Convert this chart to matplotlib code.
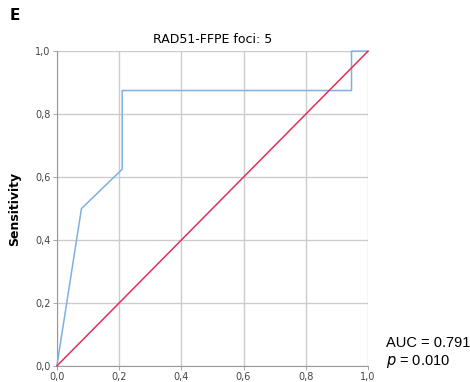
import matplotlib.pyplot as plt

# ROC curve points (1 - specificity, sensitivity)
fpr = [0.0, 0.079, 0.210, 0.210, 0.947, 0.947, 1.0]
tpr = [0.0, 0.500, 0.625, 0.875, 0.875, 1.000, 1.0]
ref_x = [0.0, 1.0]
ref_y = [0.0, 1.0]
ticks = [0.0, 0.2, 0.4, 0.6, 0.8, 1.0]
tick_labels = ["0,0", "0,2", "0,4", "0,6", "0,8", "1,0"]

auc_text = "AUC = 0.791"
p_text = "$p$ = 0.010"

fig = plt.figure(figsize=(4.7, 3.82), dpi=100)
ax = fig.add_axes([0.121, 0.042, 0.662, 0.824])

ax.plot(fpr, tpr, color="#7fb0e0", lw=1.1, zorder=3, clip_on=False)
ax.plot(ref_x, ref_y, color="#e0305a", lw=1.1, zorder=4, clip_on=False)

ax.set_xlim(0, 1)
ax.set_ylim(0, 1)
ax.set_xticks(ticks)
ax.set_yticks(ticks)
ax.set_xticklabels(tick_labels)
ax.set_yticklabels(tick_labels)
ax.tick_params(labelsize=7, colors="#444444", length=3, width=0.6, pad=1.5, color="#999999")
ax.grid(True, color="#cccccc", lw=1.0)
ax.set_axisbelow(True)
for side in ["top", "right"]:
    ax.spines[side].set_visible(False)
for side in ["left", "bottom"]:
    ax.spines[side].set_color("#999999")
    ax.spines[side].set_linewidth(0.8)

ax.set_title("RAD51-FFPE foci: 5", fontsize=9, pad=6)
ax.set_ylabel("Sensitivity", fontsize=9, fontweight="bold", labelpad=10)

fig.text(10 / 470, 1 - 15 / 382, "E", fontsize=11, fontweight="bold", va="center", ha="left")
fig.text(386 / 470, 1 - 343 / 382, auc_text, fontsize=10.5, family="Liberation Sans",
         va="center", ha="left")
fig.text(386 / 470, 1 - 361 / 382, p_text, fontsize=10.5, family="Liberation Sans",
         va="center", ha="left")

fig.savefig("out.png", dpi=100)
